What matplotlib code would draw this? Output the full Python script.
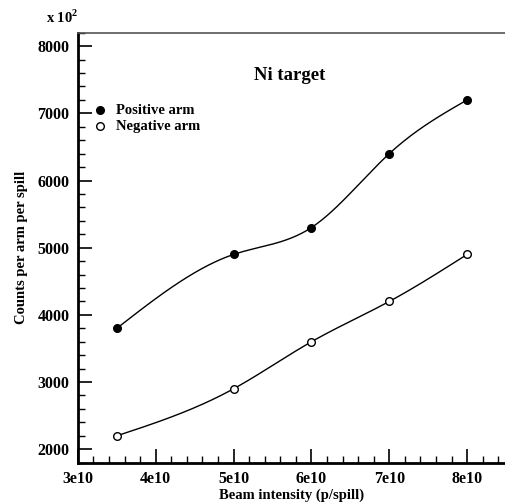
import numpy as np
import matplotlib
matplotlib.use("Agg")
import matplotlib.pyplot as plt
from matplotlib.ticker import MultipleLocator, FuncFormatter

plt.rcParams["font.family"] = ["Liberation Serif", "DejaVu Serif"]
plt.rcParams["font.weight"] = "bold"
plt.rcParams["mathtext.fontset"] = "custom"
plt.rcParams["mathtext.bf"] = "Liberation Serif:bold"
plt.rcParams["mathtext.rm"] = "Liberation Serif:bold"

intensity = [3.5e10, 5e10, 6e10, 7e10, 8e10]
positive_arm = [3800, 4900, 5300, 6400, 7200]
negative_arm = [2200, 2900, 3600, 4200, 4900]


def natural_spline(x, y, n=200):
    # plain natural cubic spline, only used to draw the smooth connecting line
    x = np.asarray(x, float)
    y = np.asarray(y, float)
    k = len(x)
    h = np.diff(x)
    A = np.zeros((k, k))
    b = np.zeros(k)
    A[0, 0] = A[-1, -1] = 1.0
    for i in range(1, k - 1):
        A[i, i - 1] = h[i - 1]
        A[i, i] = 2 * (h[i - 1] + h[i])
        A[i, i + 1] = h[i]
        b[i] = 3 * ((y[i + 1] - y[i]) / h[i] - (y[i] - y[i - 1]) / h[i - 1])
    c = np.linalg.solve(A, b)
    xs = np.linspace(x[0], x[-1], n)
    idx = np.clip(np.searchsorted(x, xs) - 1, 0, k - 2)
    dx = xs - x[idx]
    bb = (y[idx + 1] - y[idx]) / h[idx] - h[idx] * (2 * c[idx] + c[idx + 1]) / 3
    dd = (c[idx + 1] - c[idx]) / (3 * h[idx])
    ys = y[idx] + bb * dx + c[idx] * dx ** 2 + dd * dx ** 3
    return xs, ys


fig = plt.figure(figsize=(5.06, 5.04), dpi=100)
ax = fig.add_axes([0.154, 0.082, 0.846, 0.853])

for vals, face in [(positive_arm, "black"), (negative_arm, "white")]:
    xs, ys = natural_spline(intensity, vals)
    ax.plot(xs, ys, color="black", lw=1.0, zorder=2)
    ax.plot(intensity, vals, "o", ms=5.5, mfc=face, mec="black", mew=1.0, zorder=3)

ax.set_xlim(3e10, 8.5e10)
ax.set_ylim(1800, 8200)
ax.xaxis.set_major_locator(MultipleLocator(1e10))
ax.xaxis.set_minor_locator(MultipleLocator(0.2e10))
ax.yaxis.set_major_locator(MultipleLocator(1000))
ax.yaxis.set_minor_locator(MultipleLocator(200))
ax.xaxis.set_major_formatter(FuncFormatter(lambda v, p: f"{v / 1e10:.0f}e10"))
ax.yaxis.set_major_formatter(FuncFormatter(lambda v, p: f"{v:.0f}"))
ax.tick_params(which="major", direction="in", length=10, width=1.2, labelsize=11.5, pad=6)
ax.tick_params(which="minor", direction="in", length=5, width=1.0)
ax.tick_params(top=False, right=False, which="both")

ax.spines["left"].set_linewidth(2)
ax.spines["bottom"].set_linewidth(2)
ax.spines["top"].set_linewidth(1.2)
ax.spines["top"].set_color("#555555")
ax.spines["right"].set_visible(False)

ax.set_xlabel("Beam intensity (p/spill)", fontsize=10.5, fontweight="bold", labelpad=1)
ax.set_ylabel("Counts per arm per spill", fontsize=10.5, fontweight="bold", labelpad=7)
ax.text(0.495, 0.9, "Ni target", transform=ax.transAxes, ha="center", va="center",
        fontsize=13.5, fontweight="bold")
fig.text(0.09, 0.966, r"x 10$^{2}$", ha="left", va="center", fontsize=10.5, fontweight="bold")

# legend drawn by hand to keep the tight layout of the original
ax.plot([0.052], [0.82], "o", ms=5.5, mfc="black", mec="black", transform=ax.transAxes, clip_on=False)
ax.plot([0.052], [0.782], "o", ms=5.5, mfc="white", mec="black", mew=1.0, transform=ax.transAxes, clip_on=False)
ax.text(0.088, 0.82, "Positive arm", transform=ax.transAxes, va="center", fontsize=10.5, fontweight="bold")
ax.text(0.088, 0.782, "Negative arm", transform=ax.transAxes, va="center", fontsize=10.5, fontweight="bold")

fig.savefig("out.png", dpi=100)
